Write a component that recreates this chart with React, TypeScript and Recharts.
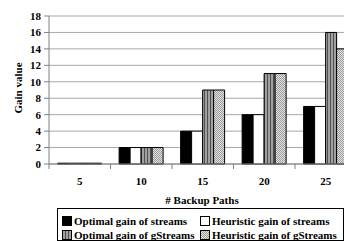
import { BarChart, Bar, XAxis, YAxis, CartesianGrid } from "recharts";

const paths = ["5", "10", "15", "20", "25"];
const optimalStreams = [0.1, 2, 4, 6, 7];
const heuristicStreams = [0.1, 2, 4, 6, 7];
const optimalGStreams = [0.1, 2, 9, 11, 16];
const heuristicGStreams = [0.1, 2, 9, 11, 14];
const yTicks = [0, 2, 4, 6, 8, 10, 12, 14, 16, 18];

const series = [
  { key: "optStreams", name: "Optimal gain of streams", fill: "#000000" },
  { key: "heuStreams", name: "Heuristic gain of streams", fill: "#ffffff" },
  { key: "optGStreams", name: "Optimal gain of gStreams", fill: "url(#stripes)" },
  { key: "heuGStreams", name: "Heuristic gain of gStreams", fill: "url(#dots)" },
];

const data = paths.map((p, i) => ({
  path: p,
  optStreams: optimalStreams[i],
  heuStreams: heuristicStreams[i],
  optGStreams: optimalGStreams[i],
  heuGStreams: heuristicGStreams[i],
}));

const W = 370;
const H = 241;
const LEFT = 49;
const RIGHT_MARGIN = 13.5;
const BAND = (W - LEFT - RIGHT_MARGIN) / paths.length;
const FONT = "Times New Roman, serif";
const textStyle = { fontFamily: FONT, fontWeight: 700 };

function XTick(props: any) {
  const { x, y, payload } = props;
  return (
    <g>
      <line x1={x - BAND / 2} x2={x - BAND / 2} y1={y - 8} y2={y - 3} stroke="#808080" />
      <text x={x} y={y + 13} textAnchor="middle" style={textStyle} fontSize={11} fill="#000">
        {payload.value}
      </text>
    </g>
  );
}

function Swatch({ fill }: { fill: string }) {
  return (
    <svg width={10} height={10} style={{ marginRight: 2, flex: "none" }}>
      <rect x={0.5} y={0.5} width={9} height={9} fill={fill} stroke="#000" />
    </svg>
  );
}

export default function App() {
  return (
    <div style={{ position: "absolute", left: 0, top: 0, width: 344, height: 241, overflow: "hidden", background: "#fff" }}>
      <BarChart
        width={W}
        height={H}
        data={data}
        margin={{ top: 16, right: RIGHT_MARGIN, left: 0, bottom: 0 }}
        barCategoryGap="14%"
        barGap={0}
      >
        <defs>
          <pattern id="stripes" width={3} height={3} patternUnits="userSpaceOnUse">
            <rect width={3} height={3} fill="#a0a0a0" />
            <rect width={1} height={3} fill="#505050" />
          </pattern>
          <pattern id="dots" width={2} height={2} patternUnits="userSpaceOnUse">
            <rect width={2} height={2} fill="#e4e4e4" />
            <rect width={1} height={1} fill="#9a9a9a" />
            <rect x={1} y={1} width={1} height={1} fill="#9a9a9a" />
          </pattern>
        </defs>
        <CartesianGrid vertical={false} stroke="#a8a8a8" />
        <XAxis
          dataKey="path"
          height={77}
          axisLine={{ stroke: "#808080" }}
          tickLine={false}
          interval={0}
          tick={<XTick />}
          label={{
            content: () => (
              <text x={202} y={204} textAnchor="middle" style={textStyle} fontSize={11} fill="#000">
                # Backup Paths
              </text>
            ),
          }}
        />
        <YAxis
          width={LEFT}
          domain={[0, 18]}
          ticks={yTicks}
          interval={0}
          axisLine={{ stroke: "#808080" }}
          tickLine={{ stroke: "#808080" }}
          tickSize={5}
          tickMargin={3}
          tick={{ style: textStyle, fontSize: 11, fill: "#000" }}
          label={{
            content: () => (
              <text
                x={0}
                y={0}
                transform="translate(22,88) rotate(-90)"
                textAnchor="middle"
                style={textStyle}
                fontSize={11}
                fill="#000"
              >
                Gain value
              </text>
            ),
          }}
        />
        {series.map((s) => (
          <Bar
            key={s.key}
            dataKey={s.key}
            name={s.name}
            fill={s.fill}
            stroke="#000"
            strokeWidth={1}
            isAnimationActive={false}
          />
        ))}
      </BarChart>
      <div
        style={{
          position: "absolute",
          left: 57,
          top: 208,
          width: 287,
          height: 33,
          border: "1px solid #000",
          boxSizing: "border-box",
          display: "grid",
          gridTemplateColumns: "138px 140px",
          padding: "5px 0 0 4px",
          fontFamily: FONT,
          fontWeight: 700,
          fontSize: 11,
          lineHeight: "14px",
          whiteSpace: "nowrap",
        }}
      >
        {series.map((s) => (
          <div key={s.key} style={{ display: "flex", alignItems: "center" }}>
            <Swatch fill={s.fill} />
            {s.name}
          </div>
        ))}
      </div>
    </div>
  );
}
